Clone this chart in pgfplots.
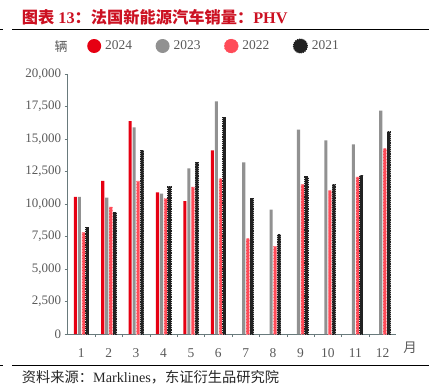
\documentclass[border=0pt]{standalone}
\usepackage{pgfplots}
\pgfplotsset{compat=1.18}
\usepackage{fontspec}
\setmainfont{Liberation Serif}
\newfontfamily\cjk{Noto Sans CJK SC}
\definecolor{red24}{RGB}{230,0,18}
\definecolor{grey23}{RGB}{145,145,145}
\definecolor{pink22}{RGB}{255,75,88}
\definecolor{black21}{RGB}{34,34,34}
\definecolor{titlered}{RGB}{204,17,34}
\definecolor{ticktxt}{RGB}{89,89,89}
\definecolor{axline}{RGB}{105,122,124}
\begin{document}
\begin{tikzpicture}[x=1bp,y=1bp]
\useasboundingbox (0,0) rectangle (429,-389);
\begin{axis}[
  at={(67.6bp,-334bp)}, anchor=south west,
  scale only axis, width=328.8bp, height=260bp,
  xmin=0.5, xmax=12.5, ymin=0, ymax=20000,
  axis x line*=bottom, axis y line*=left,
  x axis line style={-, draw=axline, line width=0.8bp},
  y axis line style={-, draw=axline, line width=0.8bp},
  xtick={1,...,12},
  minor xtick={1.5,2.5,...,11.5},
  major x tick style={draw=none},
  minor x tick style={draw=axline, line width=0.6bp},
  minor tick length=3bp,
  ytick={0,2500,...,20000},
  y tick style={draw=axline, line width=0.6bp},
  major tick length=3bp,
  ytick align=outside,
  scaled y ticks=false,
  /pgf/number format/assume math mode=true,
  /pgf/number format/fixed,
  /pgf/number format/1000 sep={,},
  y tick label style={font=\fontsize{13}{13}\selectfont, text=ticktxt},
  x tick label style={font=\fontsize{13.5}{13.5}\selectfont, text=ticktxt, yshift=-8bp},
  ybar=0.9bp, bar width=3.1bp,
  legend style={at={(axis description cs:0.0590,1.1077)}, anchor=west,
    draw=none, fill=none, inner sep=0pt,
    font=\fontsize{13.5}{13.5}\selectfont, text=ticktxt,
    nodes={inner sep=0pt},
    legend columns=-1,
    /tikz/every odd column/.append style={column sep=4bp},
    /tikz/every even column/.append style={column sep=23.5bp}},
]
\addplot[fill=red24, draw=none,
  legend image code/.code={\fill[red24] (7bp,0bp) circle (7bp);}]
  coordinates {(1,10550)(2,11770)(3,16380)(4,10900)(5,10230)(6,14130)};
\addlegendentry{2024}
\addplot[fill=grey23, draw=none,
  legend image code/.code={\fill[grey23] (7bp,0bp) circle (7bp);}]
  coordinates {(1,10550)(2,10490)(3,15900)(4,10800)(5,12740)(6,17900)(7,13200)(8,9560)(9,15720)(10,14900)(11,14590)(12,17180)};
\addlegendentry{2023}
\addplot[fill=pink22, draw=pink22!70!white, line width=0.5bp, dash pattern=on 1.5bp off 1.5bp,
  legend image code/.code={\fill[pink22] (7bp,0bp) circle (7bp);}]
  coordinates {(1,7820)(2,9770)(3,11770)(4,10410)(5,11310)(6,11950)(7,7330)(8,6740)(9,11510)(10,11050)(11,12080)(12,14260)};
\addlegendentry{2022}
\addplot[fill=black21, draw=black21, line width=1bp, dash pattern=on 1.2bp off 1bp,
  legend image code/.code={\fill[black21] (7bp,0bp) circle (7bp);}]
  coordinates {(1,8200)(2,9360)(3,14130)(4,11360)(5,13230)(6,16670)(7,10460)(8,7640)(9,12080)(10,11510)(11,12200)(12,15560)};
\addlegendentry{2021}
\end{axis}
\node[anchor=center, inner sep=0pt, font=\cjk\fontsize{13}{13}\selectfont, text=ticktxt] at (61,-46.5) {辆};
\node[anchor=center, inner sep=0pt, font=\cjk\fontsize{13.5}{13.5}\selectfont, text=ticktxt] at (410,-348) {月};
\node[anchor=west, inner sep=0pt, font=\fontsize{16.3}{16.3}\selectfont\bfseries, text=titlered] at (21.7,-17.3) {{\cjk 图表}~13{\cjk ：法国新能源汽车销量：}PHV};
\draw[black, line width=0.8bp] (12,-29.3) -- (429,-29.3);
\draw[black, line width=0.8bp] (0,-29.3) -- (3,-29.3);
\draw[black, line width=0.8bp] (12,-365) -- (429,-365);
\draw[black, line width=0.8bp] (0,-365) -- (3,-365);
\node[anchor=west, inner sep=0pt, font=\fontsize{14.3}{14.3}\selectfont, text=black!85] at (21.7,-377.7) {{\cjk 资料来源：}Marklines{\cjk ，东证衍生品研究院}};
\end{tikzpicture}
\end{document}
